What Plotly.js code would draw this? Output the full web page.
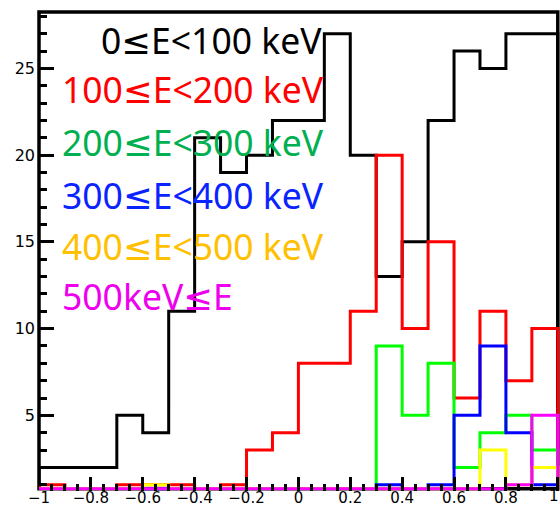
<!DOCTYPE html>
<html>
<head>
<meta charset="utf-8">
<script src="https://cdn.plot.ly/plotly-3.0.1.min.js"></script>
<style>
  html, body { margin: 0; padding: 0; background: #ffffff; }
  #chart { width: 560px; height: 509px; }
</style>
</head>
<body>
<div id="chart"></div>
<script>
// Lower edges of the twenty 0.1-wide bins, plus the upper edge of the last bin
const binLow = [-1, -0.9, -0.8, -0.7, -0.6, -0.5, -0.4, -0.3, -0.2, -0.1,
                0, 0.1, 0.2, 0.3, 0.4, 0.5, 0.6, 0.7, 0.8, 0.9];
const binHigh = 1;

// Entries per bin for each energy band
const countsE0to100   = [2, 2, 2, 5, 4, 11, 21, 19, 20, 22, 22, 27, 20, 13, 15, 22, 26, 25, 27, 27];
const countsE100to200 = [1, 0, 0, 1, 1, 1, 0, 1, 3, 4, 8, 8, 11, 20, 10, 15, 6, 11, 7, 10];
const countsE200to300 = [0, 0, 0, 0, 0, 0, 0, 0, 0, 0, 0, 0, 0, 9, 5, 8, 2, 4, 5, 3];
const countsE300to400 = [0, 0, 0, 0, 0, 0, 0, 0, 0, 0, 0, 0, 0, 1, 0, 1, 5, 9, 4, 1];
const countsE400to500 = [0, 0, 0, 0, 1, 0, 0, 0, 0, 0, 0, 0, 0, 0, 0, 0, 0, 3, 1, 2];
const countsE500up    = [0, 0, 0, 0, 0, 0, 0, 0, 0, 0, 0, 0, 0, 0, 0, 0, 0, 0, 1, 5];

const bandLabels = ['0≤E<100 keV', '100≤E<200 keV', '200≤E<300 keV',
                    '300≤E<400 keV', '400≤E<500 keV', '500keV≤E'];
const lineColors = ['#000000', '#ff0000', '#00ff00', '#0000ff', '#ffff00', '#ff00ff'];
const textColors = ['#000000', '#ff0000', '#00b050', '#0a24ff', '#ffc000', '#ee00ee'];

// Major x ticks and their labels; the label of the last tick sits against the right edge
const xTickVals = [-1, -0.8, -0.6, -0.4, -0.2, 0, 0.2, 0.4, 0.6, 0.8, 1];
const xTickText = ['−1', '−0.8', '−0.6', '−0.4', '−0.2', '0', '0.2', '0.4', '0.6', '0.8', '1'];

// Axis frame: the histogram floor sits at Y_FLOOR, bins below it are drawn on the floor
const X_RANGE = [-1, 1.0085];
const Y_RANGE = [0.64, 28.25];
const Y_FLOOR = 0.77;

const bandCounts = [countsE0to100, countsE100to200, countsE200to300,
                    countsE300to400, countsE400to500, countsE500up];

// Outline of a histogram as a stepped line (ROOT "HIST" style)
function stepTrace(counts, color) {
  const shown = counts.map(v => Math.max(v, Y_FLOOR));
  const x = [binLow[0]].concat(binLow, [binHigh, binHigh]);
  const y = [Y_FLOOR].concat(shown, [shown[shown.length - 1], Y_FLOOR]);
  return {
    type: 'scatter', mode: 'lines', x: x, y: y,
    line: { shape: 'hv', color: color, width: 3 },
    hoverinfo: 'skip', showlegend: false
  };
}

const traces = bandCounts.map((c, i) => stepTrace(c, lineColors[i]));

// Plot-area geometry in pixels, used to place the labels
const W = 560, H = 509;
const M = { l: 39, r: 0, t: 12, b: 18 };
const plotW = W - M.l - M.r, plotH = H - M.t - M.b;
const paperX = px => (px - M.l) / plotW;
const paperY = py => (M.t + plotH - py) / plotH;
const dataToPaperX = v => (v - X_RANGE[0]) / (X_RANGE[1] - X_RANGE[0]);
const dataToPaperY = v => (v - Y_RANGE[0]) / (Y_RANGE[1] - Y_RANGE[0]);

// Band labels: left edge and vertical centre of each line of text (px)
const labelLeft = [100, 61, 61, 61, 61, 61];
const labelMid = [40, 89, 142, 195, 246, 296];

const tickFont = { family: 'DejaVu Sans, sans-serif', size: 15, color: '#000' };

const annotations = bandLabels.map((t, i) => ({
  text: t, xref: 'paper', yref: 'paper',
  x: paperX(labelLeft[i]), y: paperY(labelMid[i]),
  xanchor: 'left', yanchor: 'middle', showarrow: false,
  borderpad: 0,
  font: { family: 'Noto Sans, DejaVu Sans, sans-serif', size: 35.5, color: textColors[i] }
}));

// Last x tick label, kept inside the page at the right edge
const lastTick = xTickVals.length - 1;
annotations.push({
  text: xTickText[lastTick], xref: 'paper', yref: 'paper',
  x: 1, y: paperY(496), xanchor: 'right', yanchor: 'middle',
  showarrow: false, borderpad: 0, font: tickFont
});

const layout = {
  width: W, height: H,
  margin: M,
  paper_bgcolor: '#ffffff', plot_bgcolor: '#ffffff',
  showlegend: false,
  xaxis: {
    range: X_RANGE, showgrid: false, zeroline: false, showline: false,
    tickmode: 'array', tickvals: xTickVals,
    ticktext: xTickText.map((t, i) => (i === lastTick ? '' : t)),
    ticks: 'inside', ticklen: 14, tickwidth: 3, tickcolor: '#000',
    minor: { tickmode: 'linear', ticks: 'inside', dtick: 0.05, tick0: 0, ticklen: 7, tickwidth: 3, tickcolor: '#000' },
    tickfont: tickFont,
    ticklabeloverflow: 'allow', ticklabelstandoff: -4,
    fixedrange: true
  },
  yaxis: {
    range: Y_RANGE, showgrid: false, zeroline: false, showline: false,
    ticks: 'inside', tick0: 0, dtick: 5, ticklen: 15, tickwidth: 3, tickcolor: '#000',
    minor: { ticks: 'inside', dtick: 1, tick0: 0, ticklen: 8, tickwidth: 3, tickcolor: '#000' },
    tickfont: { family: 'DejaVu Sans, sans-serif', size: 16, color: '#000' },
    ticklabelstandoff: 3,
    fixedrange: true
  },
  shapes: [{
    type: 'rect', xref: 'paper', yref: 'paper', layer: 'below',
    x0: 0, x1: dataToPaperX(binHigh),
    y0: dataToPaperY(Y_FLOOR), y1: 1,
    line: { color: '#000000', width: 3.5 },
    fillcolor: 'rgba(0,0,0,0)'
  }],
  annotations: annotations
};

Plotly.newPlot('chart', traces, layout, { staticPlot: true, displayModeBar: false });
</script>
</body>
</html>
